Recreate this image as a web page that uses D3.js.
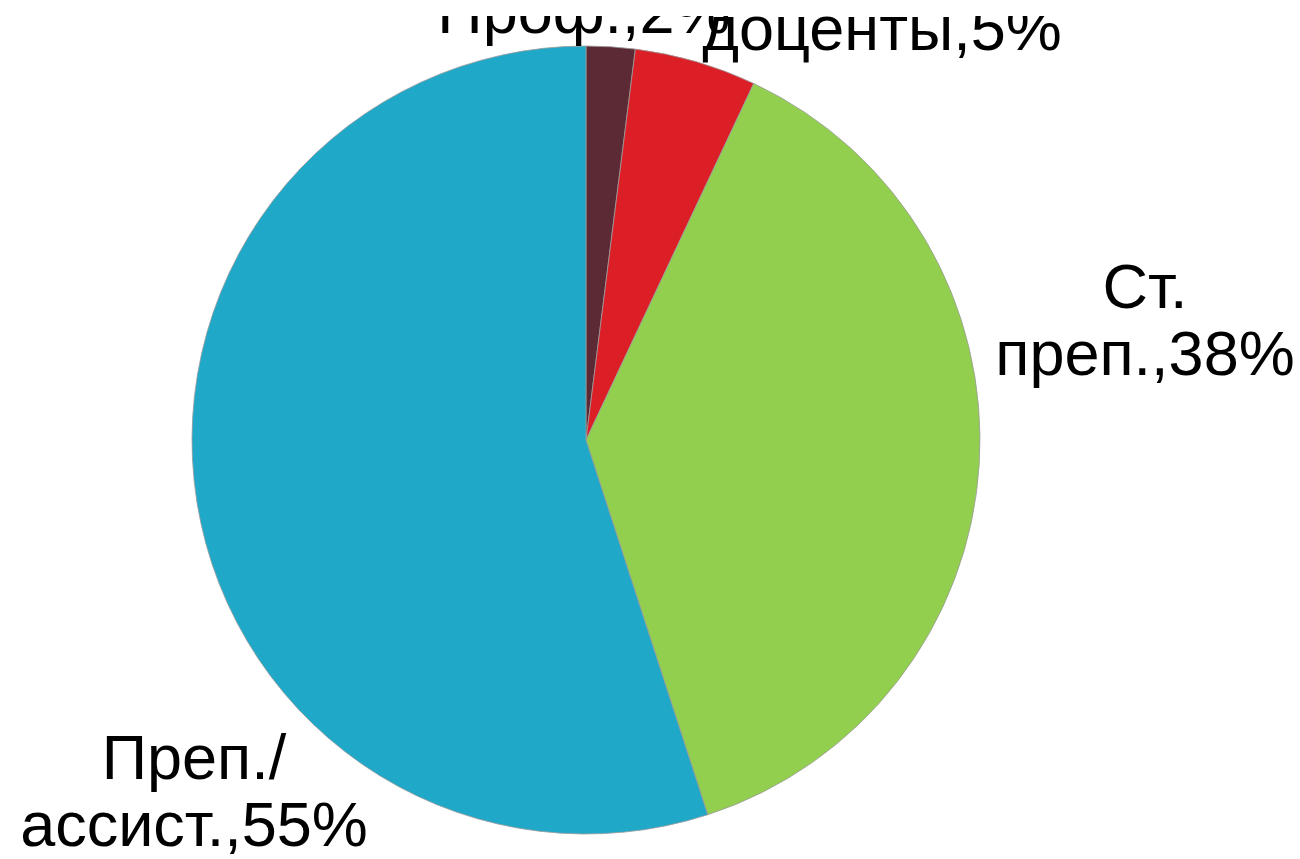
<!DOCTYPE html>
<html><head><meta charset="utf-8">
<script src="https://cdn.jsdelivr.net/npm/d3@7"></script>
<style>html,body{margin:0;padding:0;background:#fff;}svg{display:block;}</style>
</head><body>
<script>
const categories = ["Проф.", "доценты", "Ст. преп.", "Преп./ассист."];
const values = [2, 5, 38, 55];
const colors = ["#5c2a35", "#dc1f27", "#93cf4e", "#20a8c9"];
const labelLines = [["Проф.,2%"], ["доценты,5%"], ["Ст.", "преп.,38%"], ["Преп./", "ассист.,55%"]];

const W = 1300, H = 859;
const cx = 586, cy = 440, R = 394;
const svg = d3.select("body").append("svg").attr("width", W).attr("height", H);

const pie = d3.pie().sort(null).value(d => d)(values);
const arc = d3.arc().innerRadius(0).outerRadius(R);

const g = svg.append("g").attr("transform", `translate(${cx},${cy})`);
g.selectAll("path").data(pie).join("path")
  .attr("d", arc)
  .attr("fill", (d, i) => colors[i])
  .attr("stroke", "#9a9a9a")
  .attr("stroke-width", 0.8);

// label anchor positions (center x, first baseline y)
const labelPos = [[584, 33], [882, 50], [1145, 308], [194, 779]];
const lineH = 67;

svg.append("defs").append("clipPath").attr("id", "clipTop")
  .append("rect").attr("x", 0).attr("y", 16).attr("width", W).attr("height", H);

const lg = svg.append("g").attr("clip-path", "url(#clipTop)");
labelLines.forEach((lines, i) => {
  const t = lg.append("text")
    .attr("text-anchor", "middle")
    .attr("font-family", "Liberation Sans, Arial, sans-serif")
    .attr("font-size", 63)
    .attr("fill", "#000");
  lines.forEach((s, j) => {
    t.append("tspan").attr("x", labelPos[i][0]).attr("y", labelPos[i][1] + j * lineH).text(s);
  });
});
</script>
</body></html>
